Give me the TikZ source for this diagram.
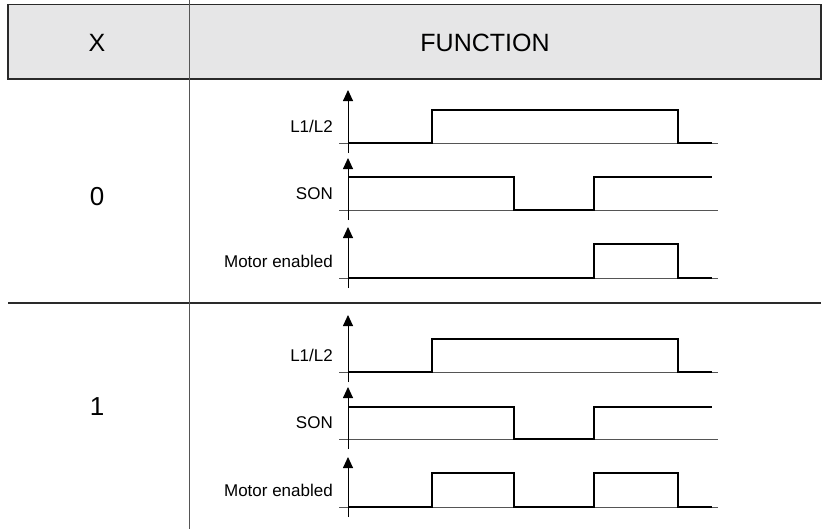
\documentclass[tikz,border=0pt]{standalone}
\usepackage{fontspec}
\setmainfont{Liberation Sans}
\usetikzlibrary{arrows.meta}
\definecolor{hdrfill}{HTML}{E6E6E7}
\definecolor{rule}{HTML}{2A2A2A}
\definecolor{thin}{HTML}{555555}
\newcommand\mypanel[5]{% #1 prefix, #2 tip y, #3 high y, #4 low y, #5 label
  \coordinate (#1tip) at (348,#2);
  \coordinate (#1bot) at (348,#4+10);
  \coordinate (#1bl) at (339,#4);
  \coordinate (#1br) at (718,#4);
  \draw[baseline] (#1bl) -- (#1br);
  \draw[axisline] (#1bot) -- (#1tip);
  \node[siglabel] (#1lab) at (333,{(#3+#4)/2}) {#5};
}
\begin{document}
\begin{tikzpicture}[x=1pt,y=-1pt,
  baseline/.style={draw=thin,line width=0.9pt},
  axisline/.style={draw=black,line width=0.9pt,-{Triangle[length=11pt,width=10pt]}},
  signal/.style={draw=black,line width=2pt,line join=miter},
  siglabel/.style={anchor=east,font=\fontsize{17}{20}\selectfont,inner sep=0pt},
  bigtext/.style={font=\fontsize{25}{30}\selectfont,inner sep=0pt},
  rowtext/.style={font=\fontsize{26}{30}\selectfont,inner sep=0pt}]
\useasboundingbox (0,0) rectangle (822,531);
% header
\draw[fill=hdrfill,draw=rule,line width=1.5pt] (8,4.5) rectangle (821,79);
\node[bigtext] (hx) at (97,42.5) {X};
\node[bigtext] (hf) at (485,42.5) {FUNCTION};
% row divider
\coordinate (dl) at (8,303);
\coordinate (dr) at (821,303);
\draw[draw=rule,line width=1.5pt] (dl) -- (dr);
% vertical separator
\coordinate (vt) at (189.5,0);
\coordinate (vb) at (189.5,529);
\draw[draw=thin,line width=1pt] (vt) -- (vb);
% row labels
\node[rowtext] (r0) at (97,197) {0};
\node[rowtext] (r1) at (97,406.5) {1};
% row 0 panels
\mypanel{a}{90}{110}{143}{L1/L2}
\draw[signal] (348,143) -- (432,143) -- (432,110) -- (678,110) -- (678,143) -- (712,143);
\mypanel{b}{158}{177}{210}{SON}
\draw[signal] (348,177) -- (514,177) -- (514,210) -- (594,210) -- (594,177) -- (712,177);
\mypanel{c}{227}{244}{278}{Motor enabled}
\draw[signal] (348,278) -- (594,278) -- (594,244) -- (678,244) -- (678,278) -- (712,278);
% row 1 panels
\mypanel{d}{315}{339}{372}{L1/L2}
\draw[signal] (348,372) -- (432,372) -- (432,339) -- (678,339) -- (678,372) -- (712,372);
\mypanel{e}{387}{407}{439}{SON}
\draw[signal] (348,407) -- (514,407) -- (514,439) -- (594,439) -- (594,407) -- (712,407);
\mypanel{f}{457}{473}{507}{Motor enabled}
\draw[signal] (348,507) -- (432,507) -- (432,473) -- (514,473) -- (514,507) -- (594,507) -- (594,473) -- (678,473) -- (678,507) -- (712,507);
\end{tikzpicture}
\end{document}
